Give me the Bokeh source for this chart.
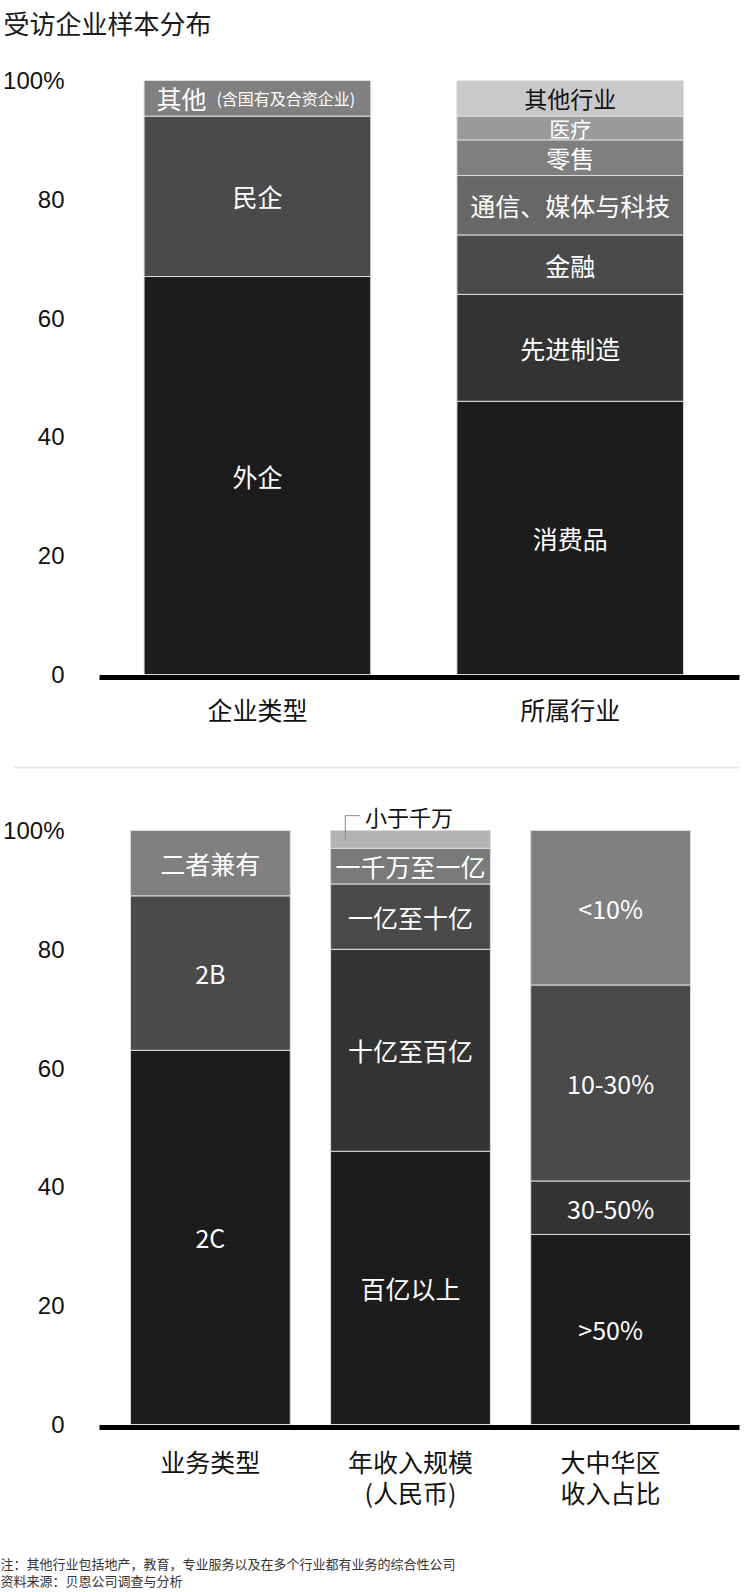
import numpy as np
from bokeh.plotting import figure
from bokeh.models import ColumnDataSource, Range1d, FixedTicker
from bokeh.layouts import column
from bokeh.core.properties import value
from bokeh.embed import file_html
from bokeh.resources import INLINE

# ---------------- data ----------------
title_text = "受访企业样本分布"

top_categories = ["企业类型", "所属行业"]
type_labels = ["外企", "民企", "其他"]
type_values = [67, 27, 6]
type_note = "(含国有及合资企业)"
industry_labels = ["消费品", "先进制造", "金融", "通信、媒体与科技", "零售", "医疗", "其他行业"]
industry_values = [46, 18, 10, 10, 6, 4, 6]

bottom_categories = ["业务类型", "年收入规模\n(人民币)", "大中华区\n收入占比"]
business_labels = ["2C", "2B", "二者兼有"]
business_values = [63, 26, 11]
revenue_labels = ["百亿以上", "十亿至百亿", "一亿至十亿", "一千万至一亿", "小于千万"]
revenue_values = [46, 34, 11, 6, 3]
share_labels = [">50%", "30-50%", "10-30%", "<10%"]
share_values = [32, 9, 33, 26]

y_ticks = [0, 20, 40, 60, 80, 100]
y_tick_labels = ["0", "20", "40", "60", "80", "100%"]

footnotes = ["注：其他行业包括地产，教育，专业服务以及在多个行业都有业务的综合性公司",
             "资料来源：贝恩公司调查与分析"]

# ---------------- styles ----------------
CJK = "Noto Sans CJK SC"
W = 748
type_colors = ["#1c1c1c", "#4a4a4a", "#808080"]
industry_colors = ["#1c1c1c", "#333333", "#4a4a4a", "#676767", "#7f7f7f", "#9a9a9a", "#c9c9c9"]
business_colors = ["#1c1c1c", "#4a4a4a", "#808080"]
revenue_colors = ["#1c1c1c", "#333333", "#4a4a4a", "#7a7a7a", "#b3b3b3"]
share_colors = ["#1c1c1c", "#333333", "#4a4a4a", "#808080"]


def stacked(p, xc, width, labels, values, colors, text_colors=None, sizes=None, skip=()):
    vals = np.array(values, dtype=float)
    tops = np.cumsum(vals)
    bottoms = tops - vals
    n = len(vals)
    text_colors = text_colors or ["white"] * n
    sizes = sizes or ["25px"] * n
    shown = [("" if lab in skip else lab) for lab in labels]
    src = ColumnDataSource(dict(x=[xc] * n, bottom=bottoms, top=tops,
                                mid=(bottoms + tops) / 2, label=shown,
                                color=colors, tcolor=text_colors, size=sizes))
    p.vbar(x="x", width=width, bottom="bottom", top="top", fill_color="color",
           line_color="#dcdcdc", line_width=1, source=src)
    p.text(x="x", y="mid", text="label", text_color="tcolor", text_font_size="size",
           text_font=value(CJK), text_align="center", text_baseline="middle", source=src)
    return bottoms, tops


def style_axes(p, categories, x_ticks, standoff):
    p.xgrid.visible = False
    p.ygrid.visible = False
    p.outline_line_color = None
    p.yaxis.ticker = FixedTicker(ticks=y_ticks)
    p.yaxis.major_label_overrides = {t: l for t, l in zip(y_ticks, y_tick_labels)}
    p.yaxis.axis_line_color = None
    p.yaxis.major_tick_line_color = None
    p.yaxis.minor_tick_line_color = None
    p.yaxis.major_label_standoff = 29
    p.yaxis.major_label_text_font = "Liberation Sans"
    p.yaxis.major_label_text_font_size = "24px"
    p.yaxis.major_label_text_color = "#111111"
    p.xaxis.ticker = FixedTicker(ticks=x_ticks)
    p.xaxis.major_label_overrides = {t: c for t, c in zip(x_ticks, categories)}
    p.xaxis.axis_line_width = 5
    p.xaxis.axis_line_color = "black"
    p.xaxis.major_tick_line_color = None
    p.xaxis.minor_tick_line_color = None
    p.xaxis.major_label_standoff = standoff
    p.xaxis.major_label_text_font = CJK
    p.xaxis.major_label_text_font_size = "25px"
    p.xaxis.major_label_text_color = "#111111"
    p.xaxis.major_label_text_line_height = 0.88


def text_strip(height, items):
    f = figure(width=W, height=height, title=None, x_axis_type=None, y_axis_type=None,
               x_range=Range1d(0, W), y_range=Range1d(height, 0),
               toolbar_location=None, output_backend="svg", frame_align=False,
               min_border=0, outline_line_color=None)
    for x, y, txt, size, color in items:
        f.text(x=[x], y=[y], text=[txt], text_font=value(CJK), text_font_size=size,
               text_color=color, text_align="left", text_baseline="middle")
    return f


# ---------------- title ----------------
head = text_strip(40, [(3, 22, title_text, "26px", "#1a1a1a")])

# ---------------- top chart ----------------
p1 = figure(width=W, height=720, title=None, x_range=Range1d(-0.0047, 2.041), y_range=Range1d(-0.5, 100),
            output_backend="svg", toolbar_location=None,
            min_border_left=97, min_border_right=5, min_border_top=40, min_border_bottom=83)
top_x = [i + 0.5 for i in range(len(top_categories))]
style_axes(p1, top_categories, top_x, 7)

b, t = stacked(p1, top_x[0], 0.7245, type_labels, type_values, type_colors, skip=("其他",))
other_mid = (b[-1] + t[-1]) / 2
p1.text(x=[top_x[0]], y=[other_mid], text=[type_labels[-1]], text_color="white", text_font_size="25px",
        text_font=value(CJK), text_align="right", text_baseline="middle", x_offset=-51)
p1.text(x=[top_x[0]], y=[other_mid], text=[type_note], text_color="white", text_font_size="16px",
        text_font=value(CJK), text_align="left", text_baseline="middle", x_offset=-41)

ind_tc = ["white"] * (len(industry_labels) - 1) + ["#111111"]
ind_sz = ["25px", "25px", "25px", "25px", "24px", "21px", "23px"]
stacked(p1, top_x[1], 0.7245, industry_labels, industry_values, industry_colors, ind_tc, ind_sz)

# ---------------- separator ----------------
sep = figure(width=W, height=12, title=None, x_axis_type=None, y_axis_type=None,
             toolbar_location=None, output_backend="svg", frame_align=False,
             min_border_left=13, min_border_right=9, min_border_top=6, min_border_bottom=4,
             background_fill_color="#e6e6e6", outline_line_color=None)

# ---------------- bottom chart ----------------
p2 = figure(width=W, height=776, title=None, x_range=Range1d(-0.054, 3.144), y_range=Range1d(-0.505, 105.05),
            output_backend="svg", toolbar_location=None,
            min_border_left=97, min_border_right=5, min_border_top=28, min_border_bottom=121)
bot_x = [i + 0.5 for i in range(len(bottom_categories))]
style_axes(p2, bottom_categories, bot_x, 9)

stacked(p2, bot_x[0], 0.7985, business_labels, business_values, business_colors)
rb, rt = stacked(p2, bot_x[1], 0.7985, revenue_labels, revenue_values, revenue_colors, skip=("小于千万",))
stacked(p2, bot_x[2], 0.7985, share_labels, share_values, share_colors)

small_mid = (rb[-1] + rt[-1]) / 2
lead_y = 102.5
lx = bot_x[1] - 0.326
p2.line(x=[lx, lx, bot_x[1] - 0.251], y=[small_mid, lead_y, lead_y], line_color="#8a8a8a", line_width=1)
p2.text(x=[bot_x[1] - 0.227], y=[lead_y], text=[revenue_labels[-1]], text_color="#111111",
        text_font_size="22px", text_font=value(CJK), text_align="left", text_baseline="middle")

# ---------------- footnotes ----------------
foot = text_strip(44, [(0, 15, footnotes[0], "13px", "#333333"),
                       (0, 32, footnotes[1], "13px", "#333333")])

layout = column(head, p1, sep, p2, foot)
open("out.html", "w").write(file_html(layout, INLINE))
